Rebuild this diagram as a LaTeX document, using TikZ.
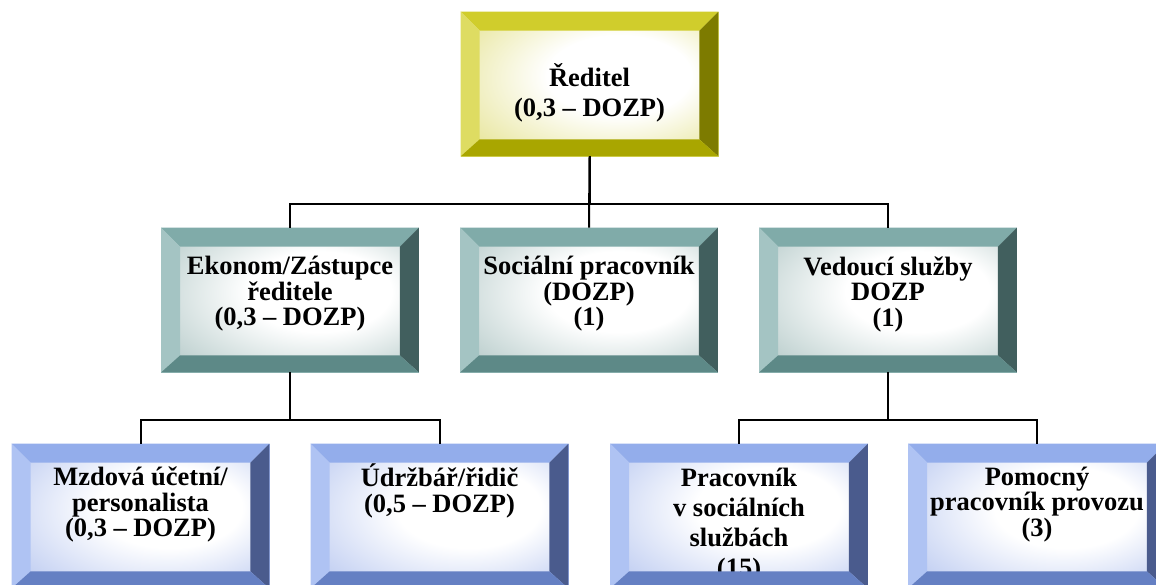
\documentclass[tikz,border=0pt]{standalone}
\usepackage{fontspec}
\setmainfont{Liberation Serif}
\usetikzlibrary{calc}

\definecolor{yeltop}{HTML}{D0CD2C}
\definecolor{yelleft}{HTML}{DEDC62}
\definecolor{yelright}{HTML}{7D7B00}
\definecolor{yelbot}{HTML}{A9A600}
\definecolor{yeltint}{HTML}{D3CF45}
\definecolor{yeledge}{HTML}{E2E070}
\definecolor{tealtop}{HTML}{80ABA9}
\definecolor{tealleft}{HTML}{A4C4C3}
\definecolor{tealright}{HTML}{415F5E}
\definecolor{tealbot}{HTML}{5D8987}
\definecolor{tealtint}{HTML}{7FA3A1}
\definecolor{tealedge}{HTML}{9CC0BE}
\definecolor{bluetop}{HTML}{93ADEB}
\definecolor{blueleft}{HTML}{AFC3F3}
\definecolor{blueright}{HTML}{4A5B8D}
\definecolor{bluebot}{HTML}{6580C3}
\definecolor{bluetint}{HTML}{8AA3E6}
\definecolor{blueedge}{HTML}{9FB6F0}

\pgfdeclareradialshading{yelwash}{\pgfpoint{8bp}{4bp}}{color(0bp)=(white); color(14bp)=(white); color(50bp)=(yeltint)}
\pgfdeclareradialshading{tealwash}{\pgfpoint{8bp}{4bp}}{color(0bp)=(white); color(14bp)=(white); color(50bp)=(tealtint)}
\pgfdeclareradialshading{bluewash}{\pgfpoint{8bp}{4bp}}{color(0bp)=(white); color(14bp)=(white); color(50bp)=(bluetint)}

\tikzset{
    box/.style={minimum width=257pt, minimum height=144pt, inner sep=0pt, line width=0.8pt},
    boxtext/.style={align=center, inner sep=0pt, font=\bfseries\fontsize{26.5}{25.5}\selectfont},
    conn/.style={line width=2pt, black}
}

% the four bevels of a box: name, palette
\newcommand{\bevels}[2]{%
    \fill[#2top] (#1.north west) -- (#1.north east) -- ([shift={(-19,19)}]#1.north east) -- ([shift={(19,19)}]#1.north west) -- cycle;
    \fill[#2left] (#1.north west) -- ([shift={(19,19)}]#1.north west) -- ([shift={(19,-17)}]#1.south west) -- (#1.south west) -- cycle;
    \fill[#2right] (#1.north east) -- ([shift={(-19,19)}]#1.north east) -- ([shift={(-19,-17)}]#1.south east) -- (#1.south east) -- cycle;
    \fill[#2bot] (#1.south west) -- ([shift={(19,-17)}]#1.south west) -- ([shift={(-19,-17)}]#1.south east) -- (#1.south east) -- cycle;
}

% name, position, palette, text shift, text
\newcommand{\orgbox}[5]{%
    \node[box, shading=#3wash, draw=#3edge] (#1) at (#2) {};
    \node[boxtext] (#1-t) at ([yshift=#4]#1.center) {#5};
    \bevels{#1}{#3}
}

\begin{document}
\begin{tikzpicture}[x=1pt, y=-1pt]
    \useasboundingbox (0,0) rectangle (1156,584);
    \clip (0,0) rectangle (1156,584);

    \orgbox{reditel}{589.5,84}{yel}{-9pt}{Ředitel\\[4.5pt](0,3 – DOZP)}

    \orgbox{ekonom}{290,300}{teal}{6pt}{Ekonom/Zástupce\\ředitele\\(0,3 – DOZP)}
    \orgbox{social}{589,300}{teal}{6pt}{Sociální pracovník\\(DOZP)\\(1)}
    \orgbox{vedouci}{888,300}{teal}{6pt}{Vedoucí služby\\DOZP\\(1)}

    \orgbox{mzda}{140.5,516}{blue}{11.5pt}{Mzdová účetní/\\personalista\\(0,3 – DOZP)}
    \orgbox{udrzba}{439.5,516}{blue}{25pt}{Údržbář/řidič\\(0,5 – DOZP)}
    \orgbox{pracovnik}{739,516}{blue}{-9pt}{Pracovník\\[4.5pt]v sociálních\\[4.5pt]službách\\[4.5pt](15)}
    \orgbox{pomocny}{1037,516}{blue}{11.5pt}{Pomocný\\pracovník provozu\\(3)}

    \draw[conn] (reditel.south) -- ++(0,48) -| (ekonom.north);
    \draw[conn] (reditel.south) -- ++(0,48) -| (vedouci.north);
    \draw[conn] (reditel.south) -- (social.north);

    \draw[conn] (ekonom.south) -- ++(0,48) -| (mzda.north);
    \draw[conn] (ekonom.south) -- ++(0,48) -| (udrzba.north);

    \draw[conn] (vedouci.south) -- ++(0,48) -| (pracovnik.north);
    \draw[conn] (vedouci.south) -- ++(0,48) -| (pomocny.north);

\end{tikzpicture}
\end{document}
